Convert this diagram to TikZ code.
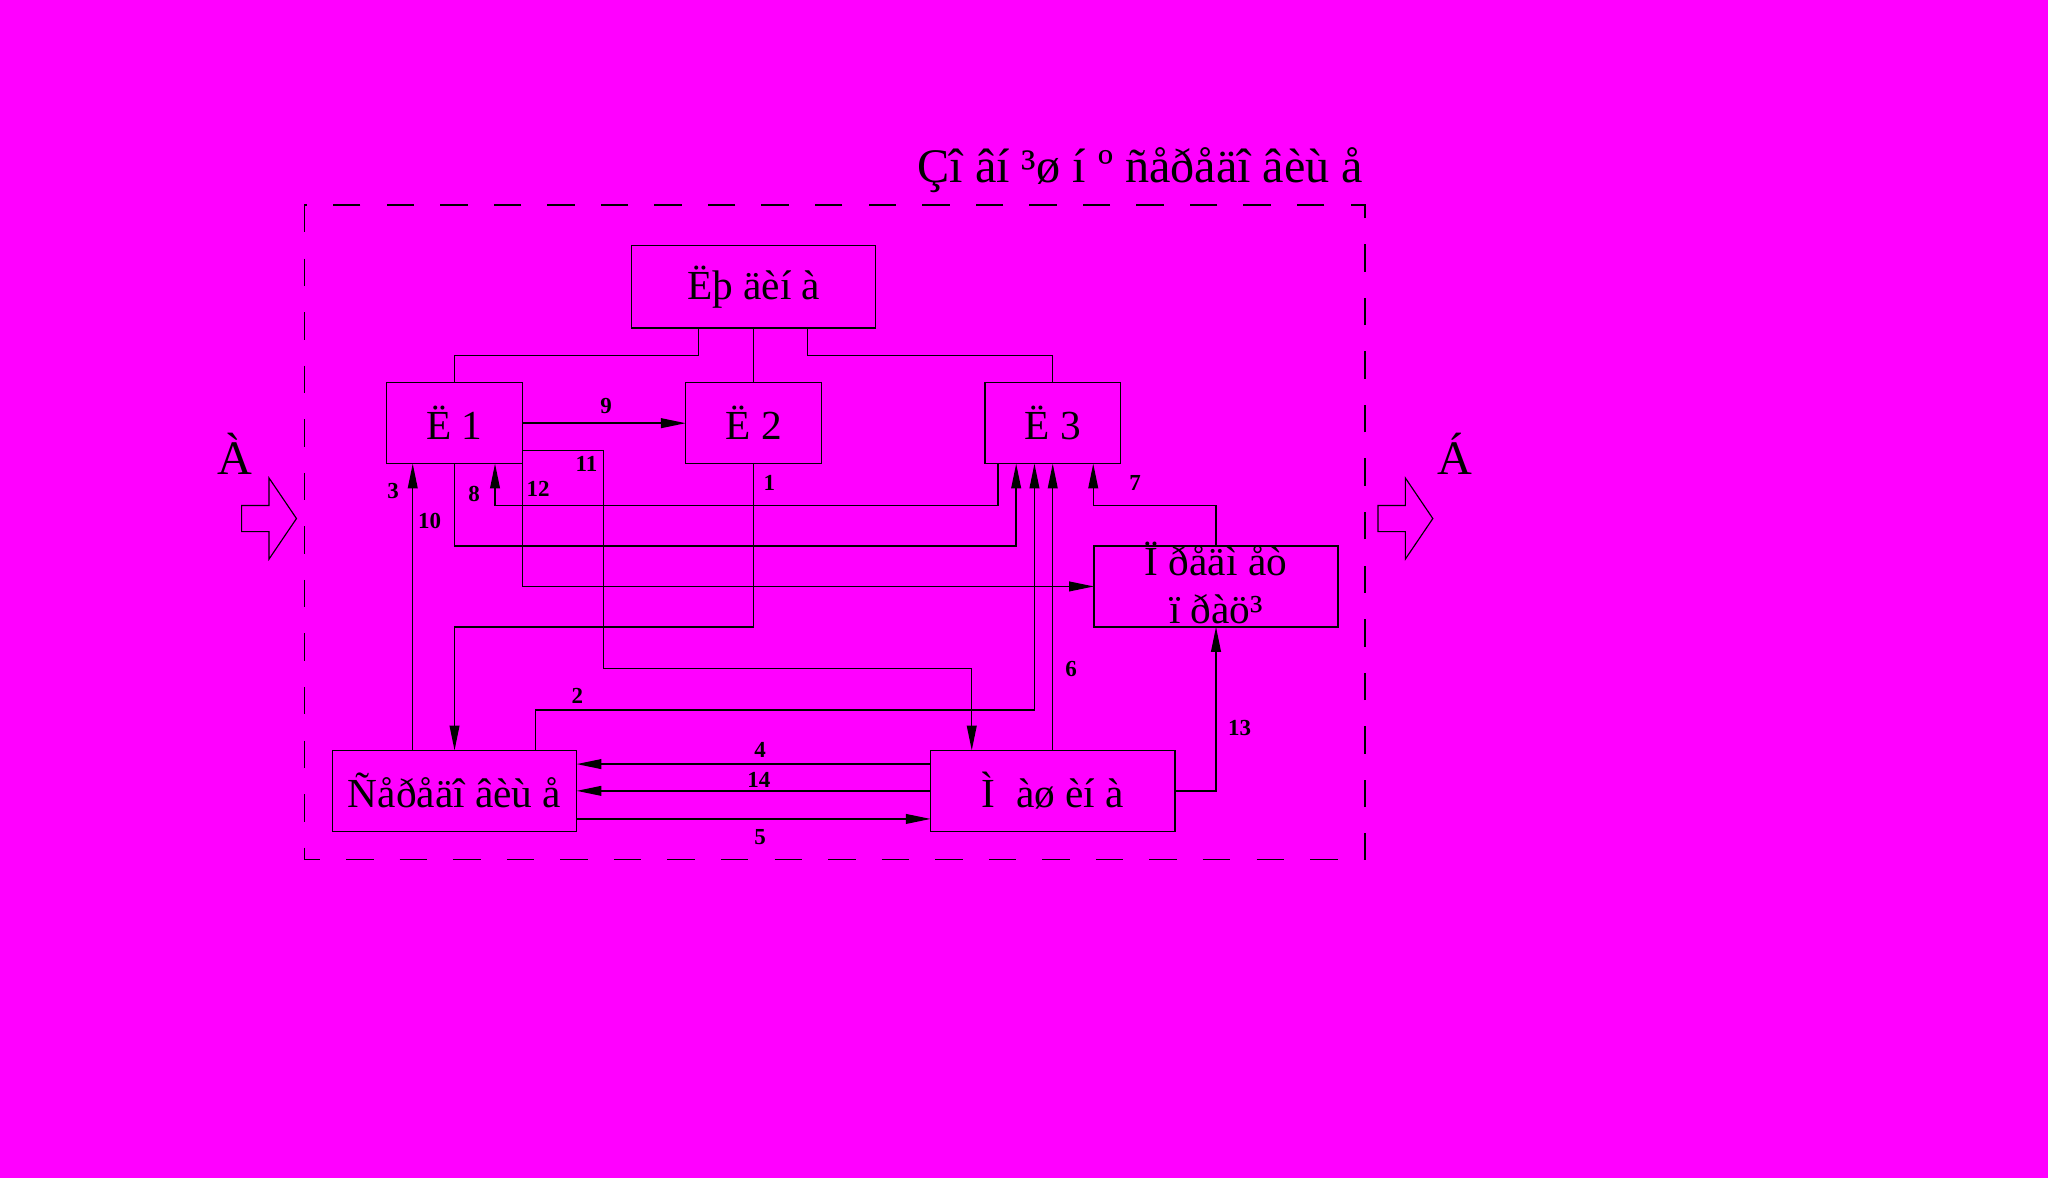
\documentclass[tikz,border=0pt]{standalone}
\usepackage{fontspec}
\setmainfont{Liberation Serif}
\usetikzlibrary{arrows.meta}
\definecolor{bg}{RGB}{255,0,255}
\begin{document}
\begin{tikzpicture}[x=0.2mm, y=-0.2mm]
  \tikzstyle{box}=[draw, rectangle, line width=0.6pt, inner sep=0pt, outer sep=0pt, minimum width=37.4mm, minimum height=12.4mm, font=\fontsize{18}{20}\selectfont]
  \tikzstyle{lbox}=[box, minimum width=20.8mm]
  \tikzstyle{num}=[font=\bfseries\fontsize{10}{12}\selectfont, inner sep=0pt]
  \tikzstyle{link}=[line width=0.6pt]
  \tikzstyle{arr}=[link, -{Triangle[length=3.8mm, width=1.5mm]}]
  \tikzstyle{big}=[font=\fontsize{21}{24}\selectfont, inner sep=0pt]

  \fill[bg] (0,0) rectangle (1568,902);
  \useasboundingbox (0,0) rectangle (1568,902);

  % environment border and title
  \draw[link, dash pattern=on 4.2mm off 4mm] (233,157) rectangle (1045,658);
  \node[big, anchor=base east] (title) at (1044,140) {Çî âí ³ø í º ñåðåäî âèù å};

  % boxes
  \node[box, minimum height=12.6mm] (lyud)    at (577,219.5) {Ëþ äèí à};
  \node[lbox]                       (l1)      at (348,324)   {Ë 1};
  \node[lbox]                       (l2)      at (577,324)   {Ë 2};
  \node[lbox]                       (l3)      at (806,324)   {Ë 3};
  \node[box]                        (predmet) at (931,449)   {};
  \node[align=center, inner sep=0pt, font=\fontsize{18}{20}\selectfont, yshift=0.5mm]
    (predmettext) at (predmet) {Ï ðåäì åò\\[1pt]ï ðàö³};
  \node[box]                        (sered)   at (348,605.5) {Ñåðåäî âèù å};
  \node[box]                        (mash)    at (806,605.5) {Ì\ \ àø èí à};

  % input and output
  \node[big, anchor=base] (inA) at (180,363)  {À};
  \node[big, anchor=base] (outB) at (1114,363) {Á};
  \foreach \x in {185, 1055}
    \draw[line width=0.5pt] (\x,387) -- ++(21,0) -- ++(0,-21) -- ++(21,31)
      -- ++(-21,31) -- ++(0,-21) -- ++(-21,0) -- cycle;

  % tree
  \draw[link] ([xshift=-8.4mm]lyud.south) -- ++(0,21) -| (l1.north);
  \draw[link] (lyud.south) -- (l2.north);
  \draw[link] ([xshift=8.2mm]lyud.south) -- ++(0,21) -| (l3.north);

  % links
  \draw[arr] (l1.east) -- (l2.west);
  \draw[arr] ([yshift=-4.2mm]l1.east) -- ++(62,0) -- ++(0,167) -| ([xshift=-12.4mm]mash.north);
  \draw[arr] (l1.south east) |- (predmet.west);
  \draw[arr] (l1.south) -- ++(0,63) -| ([xshift=-5.6mm]l3.south);
  \draw[arr] ([xshift=-8.4mm]l3.south) -- ++(0,32) -| ([xshift=6.2mm]l1.south);
  \draw[arr] (l2.south) -- ++(0,125) -| (sered.north);
  \draw[arr] ([xshift=-6.4mm]sered.north) -- ([xshift=-6.4mm]l1.south);
  \draw[arr] ([xshift=12.4mm]sered.north) -- ++(0,-31) -| ([xshift=-2.8mm]l3.south);
  \draw[arr] (mash.north) -- (l3.south);
  \draw[arr] (predmet.north) -- ++(0,-31) -| ([xshift=6.2mm]l3.south);
  \draw[arr] (mash.east) -| (predmet.south);
  \draw[arr] ([yshift=4.1mm]mash.west) -- ([yshift=4.1mm]sered.east);
  \draw[arr] (mash.west) -- (sered.east);
  \draw[arr] ([yshift=-4.3mm]sered.east) -- ([yshift=-4.3mm]mash.west);

  % numbers
  \node[num] (n1)  at (589,370) {1};
  \node[num] (n2)  at (442,533) {2};
  \node[num] (n3)  at (301,376) {3};
  \node[num] (n4)  at (582,574) {4};
  \node[num] (n5)  at (582,641) {5};
  \node[num] (n6)  at (820,512) {6};
  \node[num] (n7)  at (869,370) {7};
  \node[num] (n8)  at (363,378) {8};
  \node[num] (n9)  at (464,311) {9};
  \node[num] (n10) at (329,399) {10};
  \node[num] (n11) at (449,355) {11};
  \node[num] (n12) at (412,374) {12};
  \node[num] (n13) at (949,557) {13};
  \node[num] (n14) at (581,597) {14};
\end{tikzpicture}
\end{document}
